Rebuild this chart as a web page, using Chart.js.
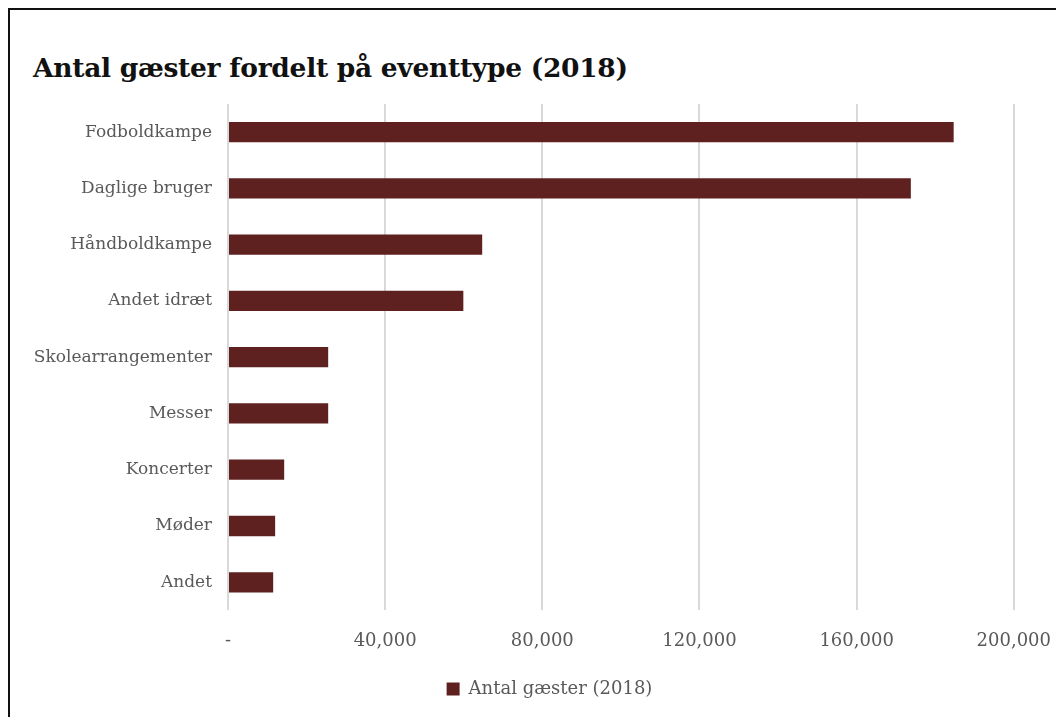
<!DOCTYPE html>
<html lang="da">
<head>
<meta charset="utf-8">
<title>Antal gæster fordelt på eventtype (2018)</title>
<script src="https://cdn.jsdelivr.net/npm/chart.js@4/dist/chart.umd.min.js"></script>
<style>
    html, body { margin: 0; padding: 0; background: #fff; overflow: hidden; }
    body { width: 1056px; height: 717px; position: relative; }
    .ramme {
        position: absolute; left: 8px; top: 8px; width: 1100px; height: 760px;
        border-left: 2px solid #111; border-top: 2px solid #111;
    }
    h1 {
        position: absolute; left: 33px; top: 52px; margin: 0;
        font-family: "DejaVu Serif", serif; font-weight: bold; font-size: 26.5px;
        color: #111; letter-spacing: -0.3px;
    }
    /* lidt bredere end vinduet, så plotområdet når helt ud til 200.000-linjen */
    #grafWrap { position: absolute; left: 0; top: 0; width: 1071px; height: 717px; }
</style>
</head>
<body>
<div class="ramme"></div>
<h1>Antal gæster fordelt på eventtype (2018)</h1>
<div id="grafWrap"><canvas id="eventChart"></canvas></div>

<script>
// Data
const eventTyper = ['Fodboldkampe', 'Daglige bruger', 'Håndboldkampe', 'Andet idræt',
    'Skolearrangementer', 'Messer', 'Koncerter', 'Møder', 'Andet'];
const antalGaester = [184700, 173800, 64700, 59900, 25500, 25500, 14300, 12000, 11500];
const xTicks = [0, 40000, 80000, 120000, 160000, 200000];
const serieNavn = 'Antal gæster (2018)';

const serif = '"DejaVu Serif", serif';
const barFarve = '#5f2120';

// x-aksens etiketter: 0 vises som "-"
function formatTal(v) {
    if (v === 0) return '-';
    return v.toLocaleString('en-US');
}

// forklaringen står lidt til højre for midten i originalen
const flytForklaring = {
    id: 'flytForklaring',
    afterLayout(chart) {
        const dx = 24;
        chart.legend.left += dx;
        chart.legend.right += dx;
    }
};

const ctx = document.getElementById('eventChart').getContext('2d');
new Chart(ctx, {
    type: 'bar',
    data: {
        labels: eventTyper,
        datasets: [{
            label: serieNavn,
            data: antalGaester,
            backgroundColor: barFarve,
            borderWidth: 0,
            barPercentage: 0.36,
            categoryPercentage: 1
        }]
    },
    options: {
        indexAxis: 'y',
        responsive: true,
        maintainAspectRatio: false,
        animation: false,
        layout: { padding: { top: 104, right: 20, bottom: 9, left: 0 } },
        plugins: {
            legend: {
                position: 'bottom',
                labels: {
                    boxWidth: 13,
                    boxHeight: 13,
                    padding: 8,
                    color: '#595959',
                    font: { family: serif, size: 18 }
                }
            },
            tooltip: { enabled: false }
        },
        scales: {
            x: {
                min: 0,
                max: 200000,
                afterBuildTicks: (scale) => {
                    scale.ticks = xTicks.map(v => ({ value: v }));
                },
                grid: { color: '#d9d9d9', lineWidth: 2, drawTicks: false },
                border: { display: false },
                ticks: {
                    color: '#595959',
                    padding: 20,
                    maxRotation: 0,
                    font: { family: serif, size: 18 },
                    callback: (v) => formatTal(v)
                }
            },
            y: {
                grid: { display: false, drawTicks: false },
                border: { display: false },
                afterFit: (scale) => { scale.width = 228; },
                ticks: {
                    color: '#595959',
                    padding: 16,
                    font: { family: serif, size: 17 }
                }
            }
        }
    },
    plugins: [flytForklaring]
});
</script>
</body>
</html>
